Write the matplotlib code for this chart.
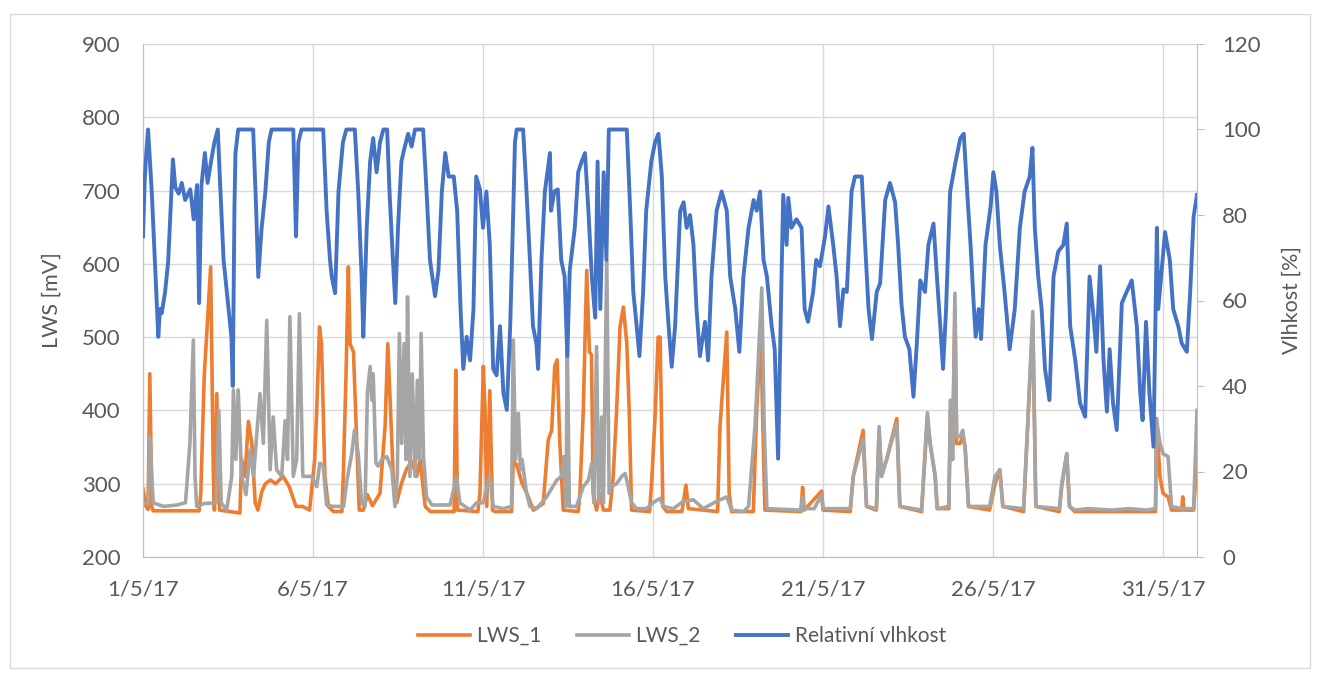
import matplotlib
matplotlib.use("Agg")
import matplotlib.pyplot as plt
from matplotlib.patches import Rectangle

# days since 1/5/17
hum_t = [0.00, 0.05, 0.10, 0.15, 0.26, 0.35, 0.45, 0.50, 0.55, 0.65, 0.74, 0.88, 0.95, 1.05, 1.14, 1.24,
         1.39, 1.49, 1.59, 1.65, 1.72, 1.82, 1.90, 2.00, 2.10, 2.20, 2.27, 2.37, 2.49, 2.60, 2.64, 2.69,
         2.72, 2.80, 3.24, 3.33, 3.39, 3.49, 3.60, 3.70, 3.78, 4.42, 4.50, 4.57, 4.66, 5.30, 5.40, 5.50,
         5.55, 5.65, 5.75, 5.88, 5.98, 6.23, 6.33, 6.43, 6.48, 6.58, 6.68, 6.77, 6.87, 6.97, 7.07, 7.18,
         7.25, 7.35, 7.42, 7.50, 7.60, 7.70, 7.80, 7.90, 8.00, 8.24, 8.34, 8.44, 8.59, 8.69, 8.79, 8.89,
         8.99, 9.14, 9.24, 9.34, 9.42, 9.52, 9.62, 9.72, 9.80, 9.91, 10.00, 10.10, 10.20, 10.30, 10.40,
         10.50, 10.60, 10.70, 10.80, 10.89, 10.94, 10.99, 11.18, 11.28, 11.38, 11.47, 11.57, 11.62, 11.72,
         11.82, 11.97, 12.00, 12.10, 12.20, 12.30, 12.40, 12.48, 12.55, 12.70, 12.80, 12.90, 13.00, 13.10,
         13.20, 13.30, 13.37, 13.45, 13.55, 13.63, 13.70, 14.23, 14.33, 14.42, 14.52, 14.60, 14.71, 14.80,
         14.95, 15.06, 15.16, 15.26, 15.36, 15.46, 15.55, 15.65, 15.80, 15.90, 15.99, 16.09, 16.19, 16.28,
         16.38, 16.53, 16.62, 16.72, 16.87, 17.02, 17.17, 17.27, 17.42, 17.54, 17.66, 17.81, 17.96, 18.05,
         18.15, 18.25, 18.35, 18.49, 18.58, 18.68, 18.78, 18.83, 18.93, 18.98, 19.07, 19.22, 19.37, 19.46,
         19.56, 19.71, 19.80, 19.91, 20.06, 20.16, 20.30, 20.40, 20.50, 20.60, 20.70, 20.84, 20.94, 21.14,
         21.24, 21.34, 21.44, 21.58, 21.68, 21.83, 21.97, 22.12, 22.21, 22.31, 22.41, 22.54, 22.66, 22.76,
         22.86, 23.00, 23.10, 23.25, 23.35, 23.45, 23.53, 23.62, 23.74, 23.90, 24.04, 24.14, 24.24, 24.34,
         24.44, 24.49, 24.58, 24.65, 24.78, 24.93, 25.01, 25.10, 25.20, 25.34, 25.49, 25.64, 25.79, 25.93,
         26.08, 26.16, 26.23, 26.33, 26.43, 26.53, 26.66, 26.78, 26.92, 27.07, 27.17, 27.27, 27.42, 27.56,
         27.71, 27.84, 27.96, 28.04, 28.15, 28.25, 28.35, 28.43, 28.53, 28.64, 28.79, 28.93, 29.08, 29.23,
         29.33, 29.40, 29.50, 29.60, 29.72, 29.82, 29.86, 29.96, 30.06, 30.20, 30.30, 30.45, 30.55, 30.70,
         30.80, 30.90, 31.00]
hum_v = [75, 88, 95, 100, 85, 69, 51.5, 58, 57, 62, 69, 93, 86.5, 85, 87.5, 83.5,
         86, 79, 87, 59.4, 87, 94.5, 87.5, 92.5, 97, 100, 87, 69.5, 60, 51.5, 40, 82,
         94.5, 100, 100, 81, 65.5, 77, 85.5, 97, 100, 100, 75, 97, 100, 100, 81, 69.5,
         65.6, 61.7, 85.5, 97, 100, 100, 85.5, 65.6, 51.5, 77, 92.5, 98, 90, 97, 100, 100,
         85.5, 69.5, 59.4, 77, 92.5, 96, 99, 96, 100, 100, 85.5, 69.5, 61, 67, 85.5, 94.5,
         89, 89, 81, 58, 44, 51.5, 46, 58, 89, 86, 77, 85.5, 73, 44, 42.5,
         54, 38.4, 34.4, 54, 81, 97, 100, 100, 85.5, 69.5, 54, 50, 44, 69.5,
         85.5, 94.5, 81, 85.5, 86, 69.5, 65.6, 47, 67, 77, 90, 92.5, 94.5, 81,
         65.6, 56, 92.5, 58, 90, 69.5, 100, 100, 81, 62, 54, 47, 62, 81,
         92.5, 97, 99, 89, 65.6, 54, 44.5, 54, 81, 83, 77, 80, 73, 58,
         47, 55, 46, 65.6, 81, 85.5, 81, 65.6, 58, 48, 65.6, 77, 83.5, 81,
         85.5, 69.5, 65.6, 54, 48.6, 23, 65.6, 84.7, 73, 84, 77, 79, 77, 58,
         55, 62, 69.5, 68, 75, 82, 73, 65.6, 54, 62.6, 62, 85.5, 89, 89,
         73, 58, 51, 62, 64, 83.5, 87.5, 83, 73, 59, 51.5, 48.6, 37.5, 50,
         64.7, 62, 73, 78, 65.6, 54, 44, 58, 85.5, 92.5, 98, 99, 85.5, 73,
         58, 51.5, 58, 51, 73, 82, 90, 85.5, 73, 62, 48.6, 58, 77, 85.5,
         89, 95.7, 77, 65.6, 58, 44, 36.7, 65.6, 71.5, 73, 78, 54, 46, 36,
         32.8, 65.6, 56, 48, 68, 46, 34, 48.6, 36, 29.7, 59.4, 62, 64.7, 54,
         38.4, 32, 55, 38.4, 25.8, 77, 58, 67, 76, 69.5, 58, 54, 50, 48,
         62, 79.6, 84.7]

lws1_t = [0.00, 0.08, 0.15, 0.20, 0.26, 0.30, 1.65, 1.70, 1.80, 1.99, 2.07, 2.10, 2.17, 2.25, 2.85, 2.90,
          3.00, 3.10, 3.20, 3.30, 3.38, 3.50, 3.60, 3.75, 3.90, 4.12, 4.30, 4.50, 4.70, 4.90, 5.05, 5.11,
          5.19, 5.25, 5.35, 5.45, 5.60, 5.85, 5.89, 5.97, 6.04, 6.09, 6.19, 6.29, 6.36, 6.48, 6.60, 6.75,
          6.97, 7.12, 7.20, 7.26, 7.36, 7.46, 7.60, 7.75, 7.90, 8.05, 8.15, 8.30, 8.45, 9.15, 9.20, 9.25,
          9.85, 9.91, 10.01, 10.06, 10.11, 10.20, 10.28, 10.35, 10.84, 10.89, 10.99, 11.15, 11.29, 11.48,
          11.77, 11.92, 12.02, 12.11, 12.18, 12.26, 12.36, 12.80, 12.85, 12.95, 13.05, 13.13, 13.19, 13.24,
          13.34, 13.44, 13.54, 13.73, 13.83, 13.93, 14.03, 14.13, 14.23, 14.30, 14.37, 14.90, 14.97, 15.07,
          15.15, 15.21, 15.29, 15.40, 15.85, 15.97, 16.04, 16.90, 16.97, 17.17, 17.24, 17.31, 17.95, 18.05,
          18.17, 18.29, 19.35, 19.40, 19.45, 19.96, 20.00, 20.80, 20.89, 21.18, 21.28, 21.57, 21.65, 21.72,
          21.87, 22.17, 22.26, 22.90, 23.07, 23.15, 23.30, 23.36, 23.70, 23.75, 23.81, 23.88, 23.93, 24.03,
          24.11, 24.18, 24.28, 24.90, 25.06, 25.20, 25.29, 25.90, 26.04, 26.17, 26.26, 26.95, 27.02, 27.17,
          27.25, 27.40, 29.78, 29.81, 29.91, 30.00, 30.15, 30.25, 30.55, 30.58, 30.62, 30.90, 31.00]
lws1_v = [293, 270, 265, 450, 268, 263, 263, 287, 446, 596, 310, 264, 423, 264, 260, 333,
          310, 385, 355, 274, 264, 290, 300, 305, 300, 310, 296, 269, 269, 264, 333, 400,
          514, 491, 310, 269, 262, 262, 310, 446, 596, 491, 480, 355, 264, 264, 285, 270,
          287, 378, 491, 423, 310, 274, 300, 320, 330, 310, 333, 269, 262, 262, 455, 264,
          262, 287, 460, 400, 269, 427, 264, 262, 262, 330, 326, 300, 287, 264,
          273, 360, 373, 460, 469, 355, 264, 262, 287, 400, 591, 480, 476, 287,
          264, 287, 264, 264, 310, 400, 514, 541, 491, 400, 264, 262, 310, 400,
          500, 500, 269, 262, 262, 298, 266, 262, 378, 507, 287, 262, 262, 400,
          505, 264, 262, 295, 264, 290, 264, 262, 310, 373, 269, 264, 370, 310,
          333, 389, 269, 262, 390, 355, 310, 266, 266, 400, 333, 540, 355, 355,
          364, 350, 269, 264, 300, 319, 269, 262, 400, 519, 269, 262, 296, 341,
          269, 262, 262, 389, 310, 287, 282, 264, 264, 282, 264, 264, 330]

lws2_t = [0.00, 0.15, 0.20, 0.30, 0.60, 1.00, 1.25, 1.38, 1.48, 1.53, 1.58, 1.80, 2.15, 2.23, 2.30, 2.46,
          2.61, 2.66, 2.73, 2.80, 2.90, 3.03, 3.15, 3.25, 3.44, 3.54, 3.64, 3.74, 3.83, 3.93, 4.08, 4.18,
          4.25, 4.32, 4.42, 4.52, 4.60, 4.70, 4.81, 4.96, 5.11, 5.20, 5.30, 5.40, 5.60, 5.90, 6.00, 6.14,
          6.22, 6.33, 6.43, 6.53, 6.60, 6.68, 6.73, 6.77, 6.85, 6.92, 7.02, 7.17, 7.32, 7.41, 7.48, 7.54,
          7.61, 7.68, 7.74, 7.78, 7.85, 7.92, 8.00, 8.07, 8.13, 8.18, 8.25, 8.34, 8.50, 9.03, 9.22, 9.32,
          9.62, 9.81, 10.00, 10.20, 10.30, 10.60, 10.84, 10.89, 10.96, 11.04, 11.10, 11.15, 11.28, 11.38,
          11.58, 11.87, 12.17, 12.31, 12.38, 12.44, 12.48, 12.54, 12.75, 12.95, 13.10, 13.20, 13.26, 13.34,
          13.40, 13.49, 13.54, 13.64, 13.71, 13.78, 13.93, 14.08, 14.18, 14.27, 14.37, 14.52, 14.81, 15.00,
          15.21, 15.30, 15.60, 15.89, 16.19, 16.48, 16.87, 17.17, 17.31, 17.66, 17.81, 18.00, 18.20, 18.27,
          18.35, 19.35, 19.40, 19.45, 19.74, 19.96, 20.00, 20.80, 20.89, 21.18, 21.28, 21.57, 21.65, 21.72,
          21.87, 22.17, 22.26, 22.90, 23.07, 23.15, 23.30, 23.36, 23.70, 23.75, 23.81, 23.88, 23.93, 24.03,
          24.11, 24.18, 24.28, 24.90, 25.06, 25.20, 25.29, 25.90, 26.04, 26.17, 26.26, 26.95, 27.02, 27.17,
          27.25, 27.40, 27.80, 28.50, 29.00, 29.50, 29.78, 29.81, 29.91, 30.00, 30.15, 30.25, 30.55, 30.90,
          31.00]
lws2_v = [274, 272, 364, 274, 269, 271, 274, 355, 496, 310, 269, 273, 274, 400, 274, 264,
          310, 428, 333, 428, 310, 285, 346, 310, 423, 355, 523, 319, 391, 319, 310, 386,
          333, 528, 310, 333, 532, 310, 310, 310, 296, 328, 324, 271, 269, 269, 305, 341,
          373, 341, 274, 269, 423, 460, 414, 450, 328, 324, 333, 337, 319, 269, 310, 505,
          355, 491, 333, 555, 310, 450, 310, 441, 333, 505, 337, 282, 271, 271, 309, 274,
          264, 274, 274, 310, 269, 266, 269, 496, 333, 396, 319, 333, 287, 269,
          266, 282, 305, 310, 337, 269, 487, 269, 269, 296, 305, 328, 274, 487,
          274, 391, 274, 605, 287, 296, 300, 310, 314, 296, 274, 266, 266, 274,
          280, 269, 266, 276, 278, 266, 276, 282, 264, 262, 269, 378, 567, 378,
          266, 264, 282, 266, 266, 285, 266, 266, 310, 360, 269, 266, 378, 310,
          333, 382, 269, 264, 397, 355, 310, 266, 269, 414, 333, 560, 364, 364,
          373, 350, 269, 269, 310, 319, 269, 266, 400, 535, 269, 266, 300, 341,
          269, 264, 266, 264, 266, 264, 266, 387, 355, 341, 337, 269, 266, 266,
          400]

tick_days = [0, 5, 10, 15, 20, 25, 30]
tick_labels = ["1/5/17", "6/5/17", "11/5/17", "16/5/17", "21/5/17", "26/5/17", "31/5/17"]

plt.rcParams['font.family'] = ['Lato', 'DejaVu Sans']
txt = '#595959'
fs = 16

fig = plt.figure(figsize=(13.2, 6.73), dpi=100)
fig.patches.append(Rectangle((10/1320, 5/673), 1300/1320, 654/673, transform=fig.transFigure,
                             fill=False, edgecolor='#d9d9d9', linewidth=1))
ax = fig.add_axes([143/1320, 1-557/673, 1054/1320, 513/673])
ax2 = ax.twinx()

l1, = ax.plot(lws1_t, lws1_v, color='#ED7D31', lw=2.6, label='LWS_1', solid_joinstyle='round')
l2, = ax.plot(lws2_t, lws2_v, color='#A5A5A5', lw=2.6, label='LWS_2', solid_joinstyle='round')
l3, = ax2.plot(hum_t, hum_v, color='#4472C4', lw=2.8, label='Relativní vlhkost', solid_joinstyle='round')

ax.set_xlim(0, 31)
ax.set_ylim(200, 900)
ax2.set_ylim(0, 120)
ax.set_yticks(range(200, 901, 100))
ax2.set_yticks(range(0, 121, 20))
ax.set_xticks(tick_days)
ax.set_xticklabels(tick_labels)

ax.grid(True, color='#d9d9d9', lw=1)
ax.set_axisbelow(True)
for a in (ax, ax2):
    for s in a.spines.values():
        s.set_color('#bfbfbf')
    a.spines['top'].set_visible(False)
ax2.spines['left'].set_visible(False)
ax.spines['right'].set_visible(False)

ax.tick_params(axis='y', length=0, pad=16, labelsize=fs, labelcolor=txt)
ax.tick_params(axis='x', length=0, pad=16, labelsize=fs, labelcolor=txt)
ax2.tick_params(axis='y', length=5, color='#bfbfbf', pad=13, labelsize=fs, labelcolor=txt)

ax.set_ylabel('LWS [mV]', fontsize=15.5, color=txt)
ax.yaxis.set_label_coords(-0.0769, 0.5)
ax2.set_ylabel('Vlhkost [%]', fontsize=15.5, color=txt)
ax2.yaxis.set_label_coords(1.0806, 0.5)

fig.legend(handles=[l1, l2, l3], loc='center', bbox_to_anchor=(682/1320, 0.055), ncol=3,
           frameon=False, fontsize=15, labelcolor=txt, handlelength=2.5, handletextpad=0.3,
           columnspacing=1.7)

fig.savefig('out.png', dpi=100)
